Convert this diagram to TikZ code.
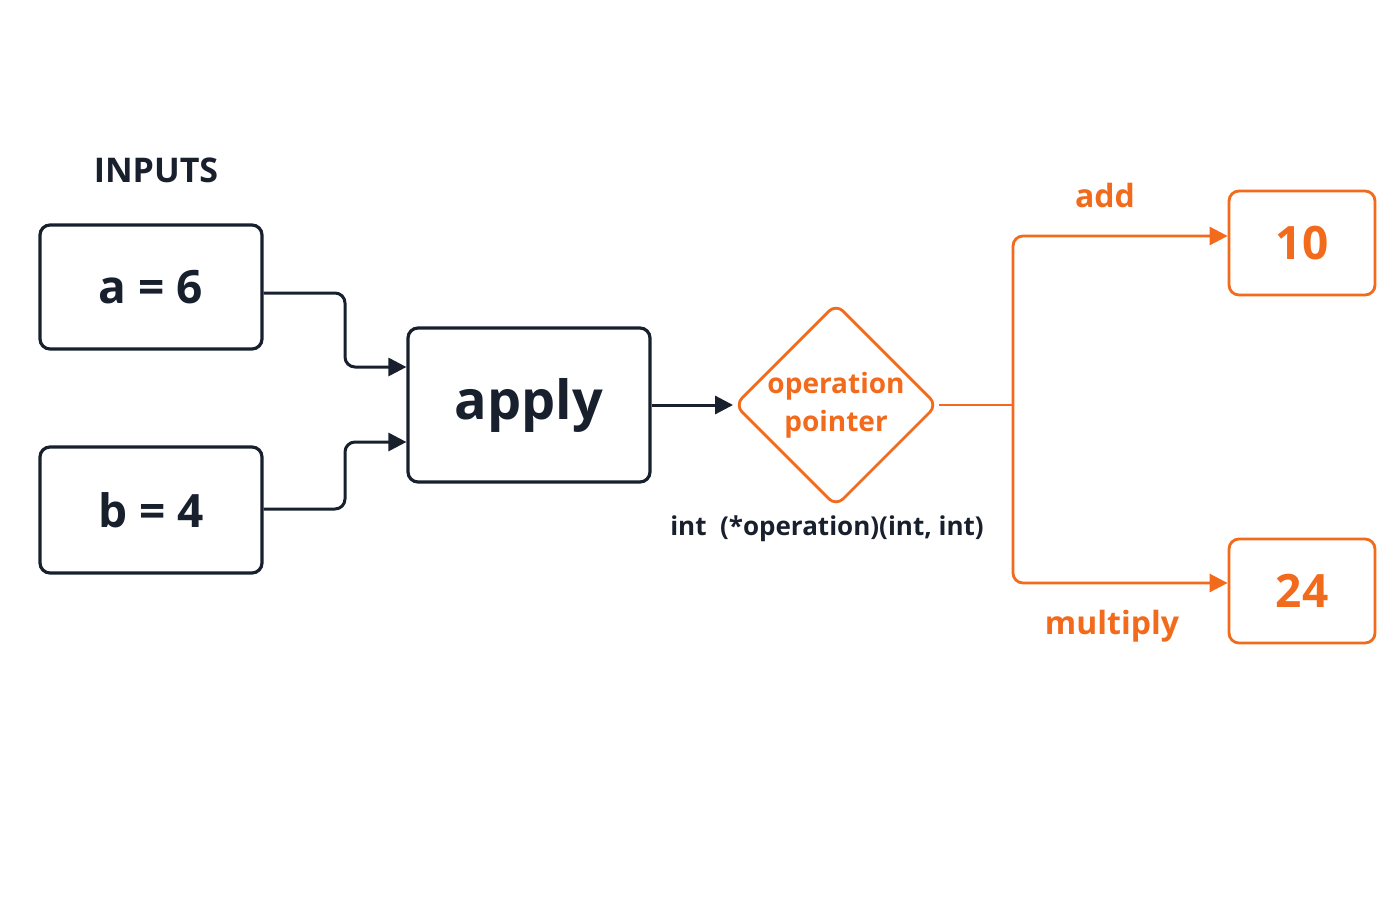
\documentclass[tikz,border=0pt]{standalone}
\usepackage{fontspec}
\setmainfont{Open Sans}
\usetikzlibrary{shapes.geometric,arrows.meta}
\definecolor{navy}{HTML}{18202E}
\definecolor{org}{HTML}{F26A1B}
\begin{document}
\begin{tikzpicture}[x=0.5pt,y=-0.5pt,
  box/.style={draw=navy,line width=1.6pt,rounded corners=5pt,inner sep=0pt,text=navy},
  obox/.style={draw=org,line width=1.4pt,rounded corners=5pt,inner sep=0pt,text=org},
  arr/.style={draw=navy,line width=1.5pt,rounded corners=5pt,-{Triangle[length=9pt,width=9pt]}},
  oarr/.style={draw=org,line width=1.4pt,rounded corners=5pt,-{Triangle[length=9pt,width=9pt]}},
  lbl/.style={font=\fontsize{#1}{#1}\selectfont\bfseries}]
\useasboundingbox[fill=white] (0,0) rectangle (1400,900);
\node[lbl=17,text=navy] (inputs) at (156,170) {INPUTS};
\node[box,minimum width=111pt,minimum height=62pt,lbl=23] (a) at (151,287) {a = 6};
\node[box,minimum width=111pt,minimum height=63pt,lbl=23] (b) at (151,510) {b = 4};
\node[box,minimum width=121pt,minimum height=77pt,lbl=27] (apply) at (529,405) {apply};
\node[draw=org,line width=1.4pt,diamond,rounded corners=5pt,minimum width=97pt,minimum height=95pt,inner sep=0pt,text=org,align=center,font=\fontsize{14}{19}\selectfont\bfseries] (op) at (836,405) {operation\\pointer};
\node[text=navy,lbl=13] (sig) at (827,529) {int\ \ (*operation)(int, int)};
\node[obox,minimum width=73pt,minimum height=52pt,lbl=23] (r10) at (1302,243) {10};
\node[obox,minimum width=73pt,minimum height=52pt,lbl=23] (r24) at (1302,591) {24};
\node[text=org,lbl=16] (add) at (1105,195) {add};
\node[text=org,lbl=16] (mul) at (1112,626) {multiply};
\coordinate (aj) at (a.east |- 0,293);
\coordinate (bj) at (b.east |- 0,509);
\draw[arr] (aj) -- (345,293) -- (345,367) -- (apply.west |- 0,367);
\draw[arr] (bj) -- (345,509) -- (345,442) -- (apply.west |- 0,442);
\draw[arr] (apply.east) -- (op.west);
\coordinate (fork) at (1013,405);
\draw[org,line width=1.4pt] (op.east) -- (fork);
\draw[oarr] (fork) -- (1013,236) -- (r10.west |- 0,236);
\draw[oarr] (fork) -- (1013,583) -- (r24.west |- 0,583);
\end{tikzpicture}
\end{document}
